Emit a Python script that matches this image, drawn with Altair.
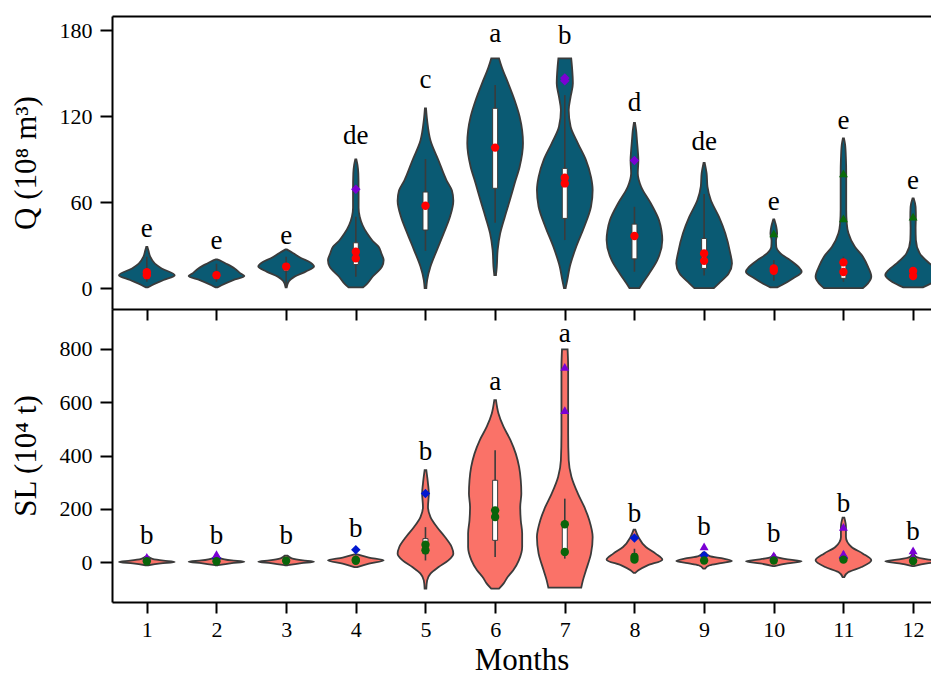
import altair as alt
import pandas as pd

MONTHS = list(range(1, 13))

# ---------------- Q panel (10^8 m^3) ----------------
# violin outlines: (value, relative half-width)
Q_SHAPE = {
    1: [(0.5, 0.03), (2, 0.18), (5.6, 0.6), (9, 1.0), (13.7, 0.53), (17, 0.29), (22, 0.12), (26, 0.06), (28.8, 0.02)],
    2: [(0.5, 0.03), (2, 0.18), (5.6, 0.6), (8.4, 1.0), (10, 0.88), (13.7, 0.65), (17, 0.35), (19, 0.15), (20, 0.02)],
    3: [(0.5, 0.02), (4.7, 0.1), (8, 0.3), (11.5, 0.7), (15, 1.0), (17.7, 0.88), (21, 0.53), (24.5, 0.24), (27, 0.02)],
    4: [(0.5, 0.26), (3, 0.4), (7.9, 0.6), (14.9, 0.94), (19.5, 1.0), (24, 0.92), (28.8, 0.82), (33, 0.6), (38, 0.41),
        (44, 0.24), (49.8, 0.14), (56, 0.1), (69, 0.1), (80, 0.09), (86, 0.06), (89.8, 0.02)],
    5: [(0, 0.03), (5.6, 0.06), (15, 0.18), (26.5, 0.41), (38, 0.65), (49.7, 0.88), (61, 1.0), (68, 0.95), (75, 0.76),
        (89, 0.47), (103, 0.18), (117, 0.06), (125.4, 0.02)],
    6: [(9, 0.03), (15, 0.06), (26.5, 0.09), (38, 0.18), (49.8, 0.35), (61.4, 0.53), (73, 0.7), (84.6, 0.88), (101, 1.0),
        (110, 0.97), (119.5, 0.88), (131, 0.7), (142.8, 0.47), (154, 0.24), (160.2, 0.14)],
    7: [(0, 0.03), (5.6, 0.09), (14.9, 0.18), (28.8, 0.41), (42.8, 0.7), (56.7, 0.94), (68.4, 1.0), (77.6, 0.94),
        (89.3, 0.76), (101, 0.47), (112.5, 0.21), (124.2, 0.14), (133.5, 0.21), (142.8, 0.29), (154, 0.26), (160.2, 0.23)],
    8: [(0, 0.18), (3.3, 0.29), (10.2, 0.53), (19.5, 0.82), (33.5, 1.0), (40, 0.97), (47.4, 0.88), (59, 0.59),
        (70.7, 0.24), (80, 0.12), (89.3, 0.14), (96, 0.12), (103, 0.09), (110, 0.06), (115.3, 0.02)],
    9: [(0, 0.35), (3.3, 0.53), (10.2, 0.88), (17.2, 1.0), (24.2, 0.94), (38.2, 0.76), (49.8, 0.53), (61.4, 0.24),
        (70.7, 0.12), (80, 0.09), (87.4, 0.02)],
    10: [(0.5, 0.12), (2.1, 0.29), (6.8, 0.7), (11.4, 1.0), (14.9, 0.88), (19.5, 0.59), (24.2, 0.24), (28.8, 0.09),
         (33, 0.08), (38.2, 0.12), (42.8, 0.09), (47.9, 0.02)],
    11: [(0, 0.7), (3.3, 0.88), (7.9, 1.0), (14.9, 0.88), (21.9, 0.7), (28.8, 0.41), (38.2, 0.18), (45, 0.12),
         (55, 0.1), (65, 0.1), (80, 0.1), (90, 0.09), (100, 0.06), (104.4, 0.02)],
    12: [(0.5, 0.35), (4.4, 0.76), (9.1, 1.0), (12.6, 0.88), (17.2, 0.59), (24.2, 0.24), (33.5, 0.1), (42, 0.09),
         (49.8, 0.1), (56.7, 0.09), (62.6, 0.02)],
}
Q_WHISKER_LO = [4.4, 4.4, 1.0, 7.9, 26, 45.6, 33.5, 11.4, 8.8, 5.1, 4.4, 5.6]
Q_WHISKER_HI = [21.8, 17, 21.8, 49.8, 90, 141.6, 134.6, 56.7, 65.6, 19.5, 21.9, 14.9]
Q_Q1 = [9, 8, 12, 16.4, 40.5, 69.6, 48.6, 20.4, 13.7, 11.4, 6.8, 7.9]
Q_Q3 = [13, 11.5, 17, 31.6, 67, 125.4, 83.5, 44.6, 34.6, 14.9, 17.2, 12.6]
Q_RED = {1: [9, 11], 2: [9], 3: [15], 4: [25.3, 20.7], 5: [57.4], 6: [98], 7: [77, 73],
         8: [36.3], 9: [24.2, 19], 10: [13.7, 12], 11: [17.9, 11.2], 12: [11.9, 8.4]}
Q_PURPLE = {4: [69], 7: [144.6, 146.5], 8: [89]}
Q_GREEN = {10: [38.2], 11: [80, 48.6], 12: [49.8]}
Q_LETTERS = ["e", "e", "e", "de", "c", "a", "b", "d", "de", "e", "e", "e"]
Q_LETTER_Y = [35.4, 27.2, 30.5, 100.2, 139.3, 171.9, 170, 123.5, 96.3, 54.4, 110.7, 69.1]

# ---------------- SL panel (10^4 t) ----------------
SL_SHAPE = {
    1: [(-12, 0.05), (-5, 0.5), (0, 1.0), (5, 0.6), (12, 0.2), (20, 0.05)],
    2: [(-12, 0.05), (-4, 0.55), (1, 1.0), (6, 0.55), (14, 0.15), (25, 0.03)],
    3: [(-12, 0.05), (-4, 0.55), (1, 1.0), (6, 0.6), (14, 0.2), (24, 0.05)],
    4: [(-19, 0.05), (-6, 0.47), (6.4, 1.0), (17, 0.47), (29, 0.05)],
    5: [(-100, 0.03), (-68.8, 0.06), (-43.6, 0.18), (-18.8, 0.47), (6.4, 0.82), (31.6, 1.0), (56.4, 0.94),
        (94, 0.7), (131.6, 0.41), (169, 0.18), (206.8, 0.09), (257, 0.12), (294.7, 0.09), (344.7, 0.03)],
    6: [(-100, 0.14), (-81, 0.3), (-56, 0.45), (-31, 0.65), (6.4, 0.85), (56.4, 0.97), (106.8, 0.97), (157, 0.92),
        (207, 0.9), (257, 0.94), (307, 0.92), (357, 0.86), (407, 0.74), (458, 0.55), (508, 0.3), (558, 0.12),
        (607.9, 0.03)],
    7: [(-96, 0.59), (-68.8, 0.65), (-31, 0.76), (31.6, 0.94), (94, 1.0), (156.8, 0.88), (206.8, 0.7), (257, 0.47),
        (319.5, 0.24), (382, 0.14), (482.7, 0.12), (570, 0.12), (608, 0.12), (733, 0.12), (798.5, 0.1)],
    8: [(-41, 0.03), (-31, 0.14), (-12.4, 0.47), (9, 1.0), (31.6, 0.76), (56.4, 0.41), (94, 0.14), (121.7, 0.03)],
    9: [(-25, 0.03), (-12, 0.2), (-4, 0.6), (3.8, 1.0), (12.8, 0.7), (22, 0.2), (35, 0.05)],
    10: [(-15, 0.03), (-5, 0.5), (3, 1.0), (10, 0.5), (20, 0.08), (28, 0.03)],
    11: [(-56.4, 0.03), (-37.6, 0.18), (-18.8, 0.65), (6.4, 1.0), (31.6, 0.7), (56.4, 0.29), (94, 0.09),
         (131.6, 0.09), (167, 0.03)],
    12: [(-15, 0.03), (-5, 0.5), (3, 1.0), (10, 0.5), (20, 0.1), (30, 0.03)],
}
SL_WHISKER_LO = [0, 0, 0, 0, 6, 19, 12.8, 0, 0, 0, 0, 0]
SL_WHISKER_HI = [10, 10, 10, 25, 131, 420, 238, 50, 30, 15, 40, 15]
SL_Q1 = [2, 2, 2, 3, 31.6, 81.5, 37, 6.4, 2, 2, 5, 2]
SL_Q3 = [6, 6, 6, 12, 88, 307, 142, 31.6, 12, 8, 25, 8]
SL_GREEN = {1: [3], 2: [3], 3: [5], 4: [9, 5], 5: [65, 44], 6: [194, 169], 7: [142, 38],
            8: [19, 9], 9: [6], 10: [6], 11: [9], 12: [4]}
SL_BLUE = {2: [13], 4: [46.6], 5: [257], 8: [90], 9: [25], 11: [15]}
SL_PURPLE = {1: [19], 2: [30], 7: [733, 570], 9: [59], 10: [25], 11: [131.6, 31.6], 12: [44, 19]}
SL_LETTERS = ["b", "b", "b", "b", "b", "a", "a", "b", "b", "b", "b", "b"]
SL_LETTER_Y = [66.5, 66.5, 66.5, 94, 382, 645, 825, 150, 100, 75, 188, 84]

# ---------------- tables ----------------
def shape_df(shape):
    rows = []
    for m, pts in shape.items():
        for v, d in pts:
            rows.append({"month": m, "v": v, "dens": d})
    return pd.DataFrame(rows)

def pts_df(d):
    return pd.DataFrame([{"month": m, "v": v} for m, vals in d.items() for v in vals])

def box_df(lo, hi, q1, q3):
    return pd.DataFrame({"month": MONTHS, "wlo": lo, "whi": hi, "q1": q1, "q3": q3})

def letter_df(letters, ys):
    return pd.DataFrame({"month": MONTHS, "label": letters, "v": ys})

FONT = "Liberation Serif"
W = 819
H = 293
XDOM = [0.5, 12.257]
xscale = alt.Scale(domain=XDOM, nice=False, zero=False, padding=0)
OUTLINE = "#3b3b3b"


def panel(shape, box, red_like, diamonds, triangles, letters, ydom, yticks, ytitle, fill,
          circle_color, diamond_color, triangle_color, bottom_labels):
    yscale = alt.Scale(domain=ydom, nice=False, zero=False, padding=0)
    yaxis = alt.Axis(values=yticks, tickSize=12, labelPadding=8, labelFontSize=22, title=ytitle,
                     titleFontSize=31, titlePadding=17)
    if bottom_labels:
        xaxis = alt.Axis(orient="bottom", values=MONTHS, format="d", tickSize=11, labelPadding=6,
                         labelFontSize=22, title="Months", titleFontSize=31, titlePadding=5)
    else:
        xaxis = alt.Axis(orient="bottom", values=MONTHS, labels=False, tickSize=11, title=None)

    def X(field):
        return alt.X(field, scale=xscale, axis=None)

    def Y(field):
        return alt.Y(field, scale=yscale, axis=yaxis)

    violin = alt.Chart(shape).transform_calculate(
        lo="datum.month - 0.4 * datum.dens", hi="datum.month + 0.4 * datum.dens"
    ).mark_area(orient="horizontal", interpolate="monotone", fill=fill, stroke=OUTLINE,
                strokeWidth=1.8, clip=True).encode(
        x=alt.X("lo:Q", scale=xscale, axis=xaxis),
        x2="hi:Q",
        y=Y("v:Q"),
        detail="month:N",
    )
    whisk = alt.Chart(box).mark_rule(color=OUTLINE, strokeWidth=1.6, clip=True).encode(
        x=X("month:Q"), y=Y("wlo:Q"), y2="whi:Q")
    bx = alt.Chart(box).mark_bar(size=5, fill="white", stroke=OUTLINE, strokeWidth=1, clip=True).encode(
        x=X("month:Q"), y=Y("q1:Q"), y2="q3:Q")
    layers = [violin, whisk, bx]
    if len(diamonds):
        layers.append(alt.Chart(diamonds).mark_point(shape="diamond", filled=True, opacity=1, size=90,
                                                     color=diamond_color, clip=True).encode(
            x=X("month:Q"), y=Y("v:Q")))
    if len(triangles):
        layers.append(alt.Chart(triangles).mark_point(shape="triangle-up", filled=True, opacity=1, size=80,
                                                      color=triangle_color, clip=True).encode(
            x=X("month:Q"), y=Y("v:Q")))
    layers.append(alt.Chart(red_like).mark_circle(size=70, opacity=1, color=circle_color, clip=True).encode(
        x=X("month:Q"), y=Y("v:Q")))
    text = alt.Chart(letters).mark_text(font=FONT, fontSize=27, baseline="alphabetic", align="center",
                                        color="black").encode(
        x=alt.X("month:Q", scale=xscale,
                axis=alt.Axis(orient="top", labels=False, ticks=False, title=None,
                              domain=not bottom_labels)),
        y=Y("v:Q"),
        text="label:N",
    )
    layers.append(text)
    return alt.layer(*layers).resolve_axis(x="independent").properties(width=W, height=H)


top = panel(shape_df(Q_SHAPE), box_df(Q_WHISKER_LO, Q_WHISKER_HI, Q_Q1, Q_Q3), pts_df(Q_RED),
            pts_df(Q_PURPLE), pts_df(Q_GREEN), letter_df(Q_LETTERS, Q_LETTER_Y),
            [-14.6, 189.8], [0, 60, 120, 180], "Q (10⁸ m³)", "#0a5a73",
            "#ff0000", "#7a00d4", "#0a6a0a", False)
bottom = panel(shape_df(SL_SHAPE), box_df(SL_WHISKER_LO, SL_WHISKER_HI, SL_Q1, SL_Q3), pts_df(SL_GREEN),
               pts_df(SL_BLUE), pts_df(SL_PURPLE), letter_df(SL_LETTERS, SL_LETTER_Y),
               [-150, 950], [0, 200, 400, 600, 800], "SL (10⁴ t)", "#fa7268",
               "#0a640a", "#0018d0", "#7a00d4", True)

chart = alt.vconcat(top, bottom, spacing=0, bounds="flush").properties(
    padding={"left": 2, "top": 8, "right": 0, "bottom": 0}
).configure_view(stroke=None).configure_axis(
    labelFont=FONT, titleFont=FONT, titleFontWeight="normal",
    labelColor="black", titleColor="black", domainColor="black", tickColor="black",
    domainWidth=2, tickWidth=2, grid=False,
)

chart.save("out.html", embed_options={"renderer": "svg", "actions": False})
